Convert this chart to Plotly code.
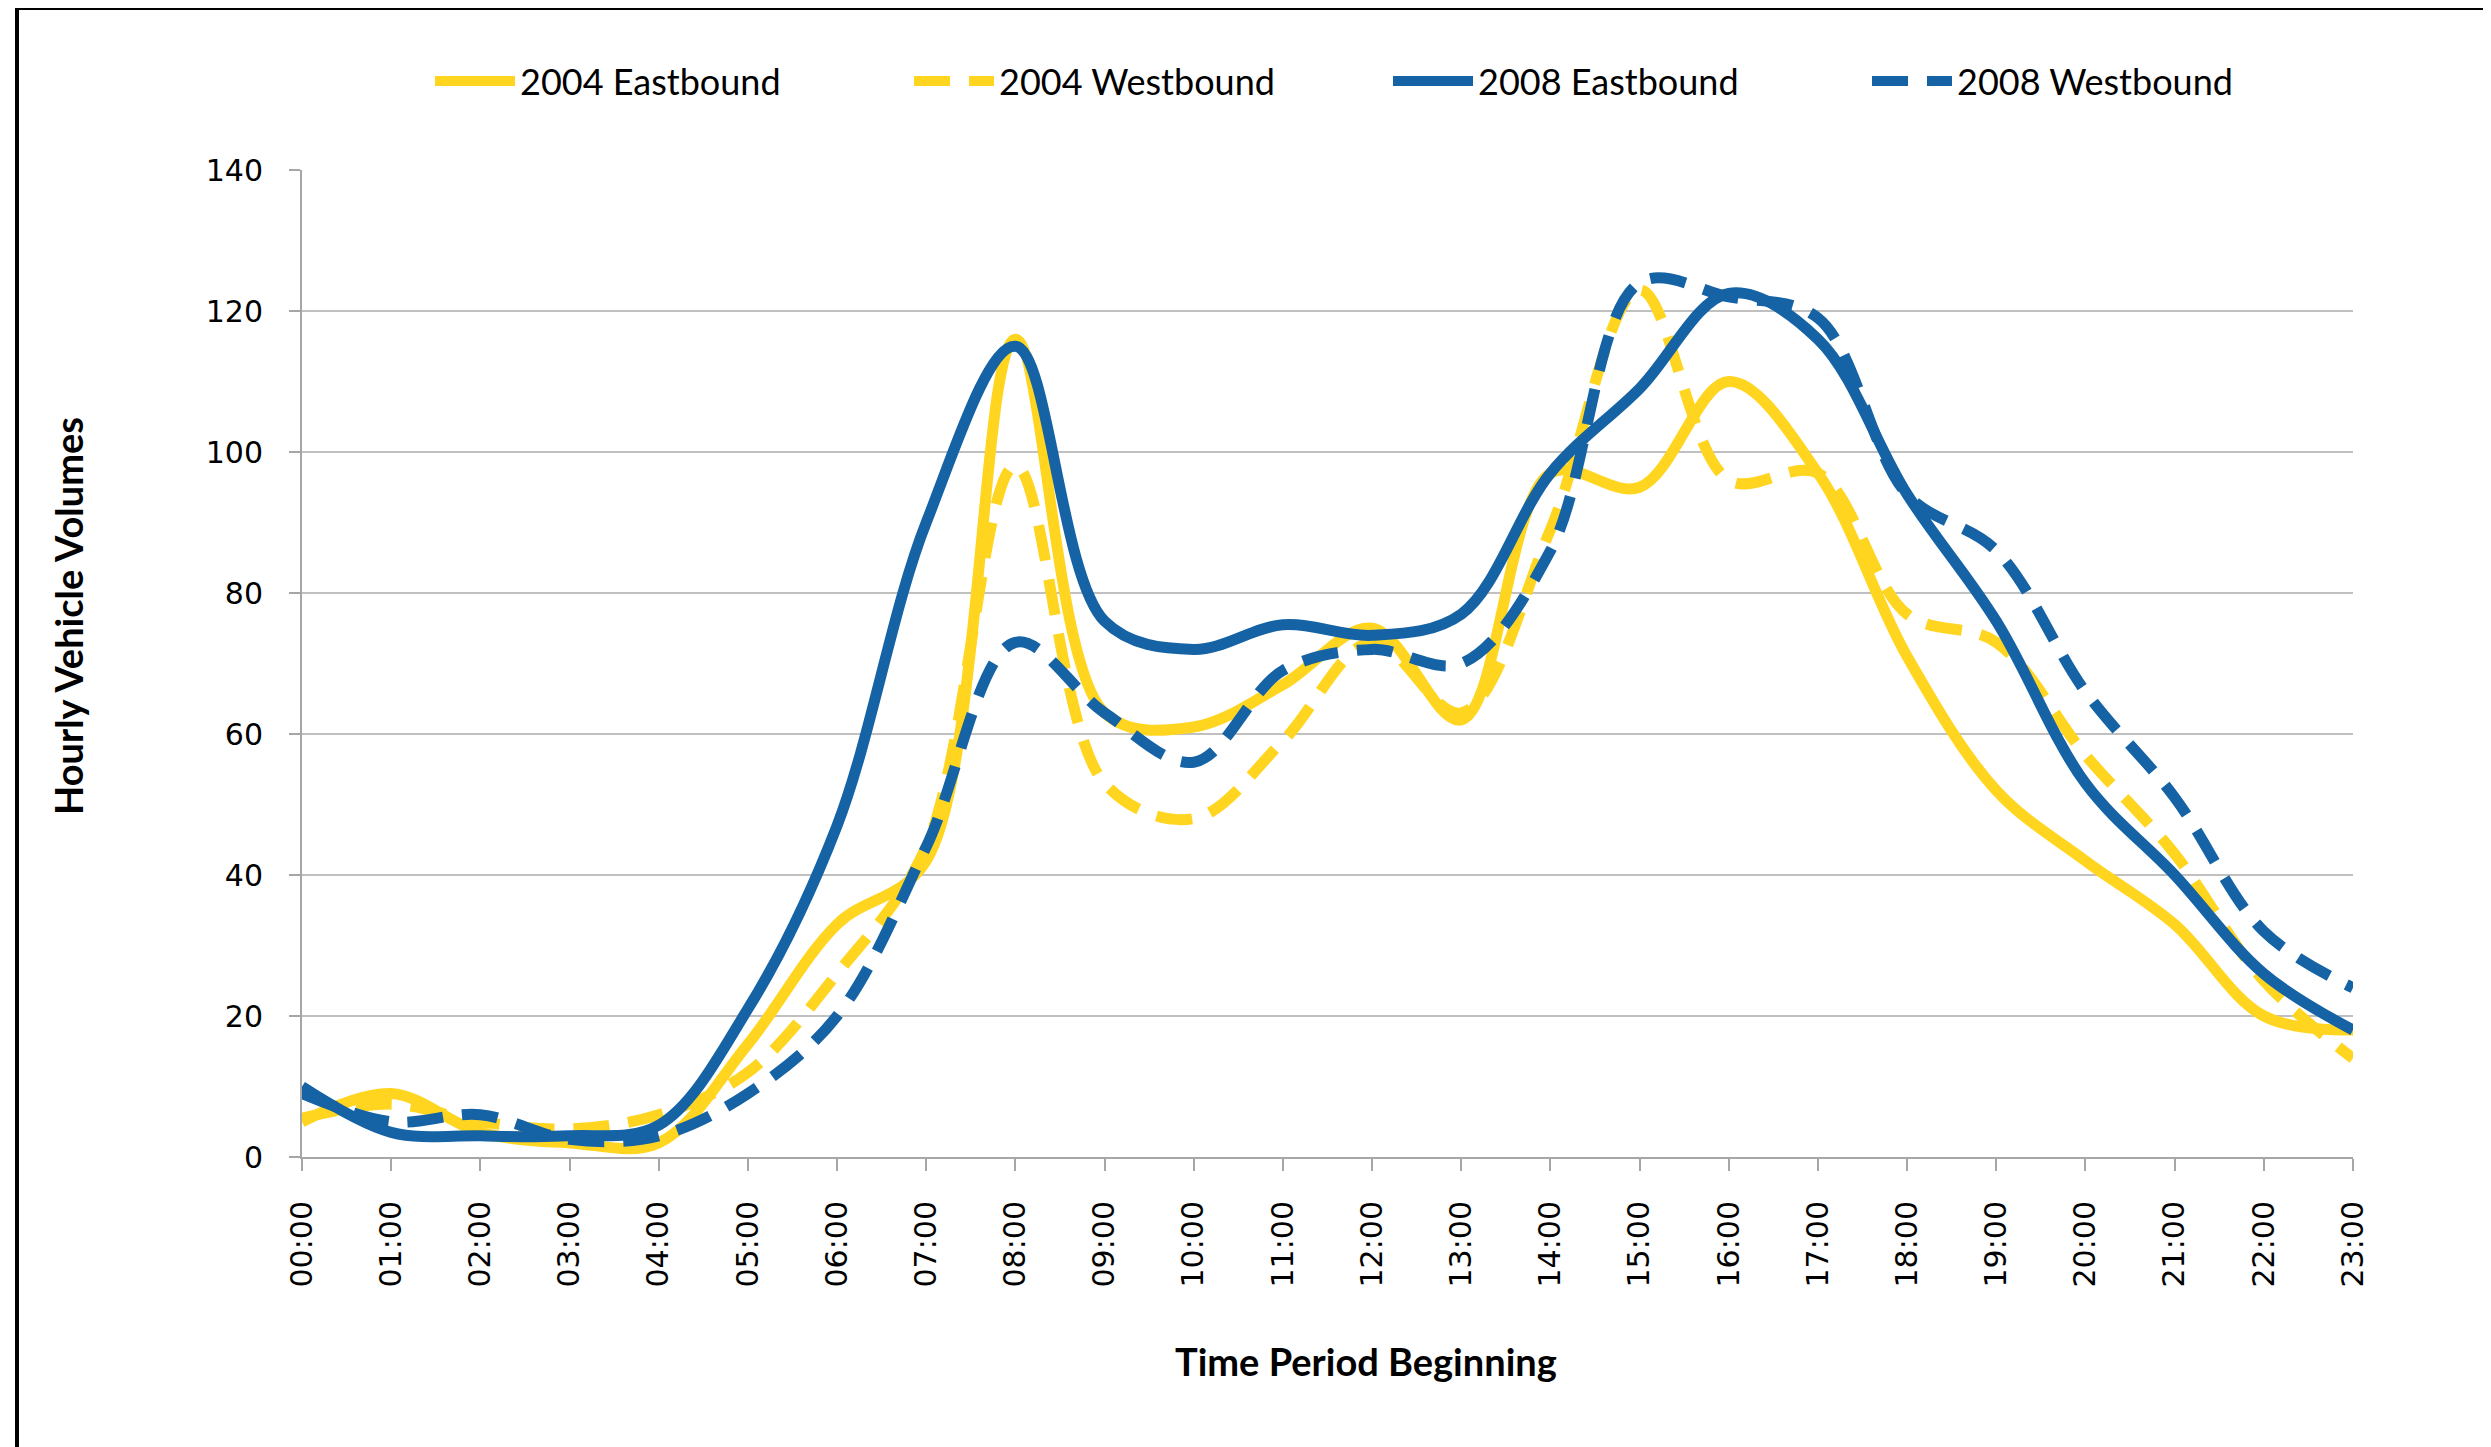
import plotly.graph_objects as go

hours = ["%02d:00" % h for h in range(24)]

eb_2004 = [5, 9, 3.5, 2, 2, 16, 33, 42, 116, 63, 61, 67, 75, 62, 97, 95, 110, 97, 71, 52, 42, 33, 20, 18]
wb_2004 = [5.5, 7.5, 5, 4, 6, 12, 26, 44, 98, 53, 48, 59, 73, 63, 89, 123, 96, 97, 77, 73, 57, 43, 25, 14]
eb_2008 = [10, 3.5, 3, 3, 4.5, 21, 47, 90, 115, 76, 72, 75.5, 74, 77, 97, 109, 122.5, 116, 94, 76, 53, 40, 26, 18]
wb_2008 = [9, 5, 6, 2.5, 3, 9, 20, 44, 73, 63, 56, 69, 72, 70, 86, 124, 122, 119, 94, 86, 66, 51, 32, 24]

y_ticks = [0, 20, 40, 60, 80, 100, 120, 140]

YELLOW = "#FFD520"
BLUE = "#1563A5"
DASH = "36px,19px"
LW = 11

series = [
    ("2004 Eastbound", eb_2004, YELLOW, "solid"),
    ("2004 Westbound", wb_2004, YELLOW, DASH),
    ("2008 Eastbound", eb_2008, BLUE, "solid"),
    ("2008 Westbound", wb_2008, BLUE, DASH),
]

fig = go.Figure()
for name, vals, col, dash in series:
    fig.add_trace(go.Scatter(
        x=hours, y=vals, name=name, mode="lines",
        line=dict(color=col, width=LW, dash=dash, shape="spline", smoothing=1.0),
    ))

# page body has an 8px default margin; work in window pixels and shift
OFF = 8
WIN_W, WIN_H = 2491, 1447
W, H = WIN_W - OFF, WIN_H - OFF
PX_L, PX_R, PX_T, PX_B = 302, 2353, 170, 1157   # plot area in window pixels
L, R = PX_L - OFF, W - (PX_R - OFF)
T, B = PX_T - OFF, H - (PX_B - OFF)
pw, ph = PX_R - PX_L, PX_B - PX_T

def px_x(x):
    return (x - PX_L) / pw

def px_y(y):
    return (PX_B - y) / ph

fig.update_layout(
    width=W, height=H,
    margin=dict(l=L, r=R, t=T, b=B, pad=0),
    paper_bgcolor="white", plot_bgcolor="white",
    font=dict(family="DejaVu Sans", size=30, color="black"),
    showlegend=True,
    legend=dict(
        orientation="h", x=px_x(430), xanchor="left", y=px_y(81), yanchor="middle",
        font=dict(family="Lato", size=36, color="black"),
        itemwidth=80, entrywidth=384, entrywidthmode="pixels",
        bgcolor="rgba(0,0,0,0)", tracegroupgap=0,
    ),
    xaxis=dict(
        type="category", range=[0, 23], tickangle=-90,
        showgrid=False, showline=True, linecolor="#A6A6A6", linewidth=2,
        ticks="outside", ticklen=12, tickcolor="#A6A6A6", tickwidth=2,
        tickfont=dict(family="DejaVu Sans", size=30, color="black"),
        ticklabelstandoff=18, zeroline=False,
    ),
    yaxis=dict(
        range=[0, 140], tickvals=y_ticks, showgrid=True, gridcolor="#C0C0C0", gridwidth=2,
        showline=True, linecolor="#A6A6A6", linewidth=2,
        ticks="outside", ticklen=11, tickcolor="#A6A6A6", tickwidth=2,
        tickfont=dict(family="DejaVu Sans", size=30, color="black"),
        ticklabelstandoff=20, zeroline=False,
    ),
    annotations=[
        dict(text="<b>Time Period Beginning</b>", xref="paper", yref="paper",
             x=px_x(1366), y=px_y(1361), xanchor="center", yanchor="middle", showarrow=False,
             font=dict(family="Lato", size=38, color="black")),
        dict(text="<b>Hourly Vehicle Volumes</b>", xref="paper", yref="paper",
             x=px_x(68), y=px_y(616), xanchor="center", yanchor="middle", showarrow=False,
             textangle=-90, font=dict(family="Lato", size=38, color="black")),
    ],
    shapes=[
        dict(type="line", xref="paper", yref="paper", x0=px_x(17), x1=px_x(2600), y0=px_y(8), y1=px_y(8),
             line=dict(color="black", width=4)),
        dict(type="line", xref="paper", yref="paper", x0=px_x(17), x1=px_x(17), y0=px_y(8), y1=px_y(1500),
             line=dict(color="black", width=4)),
    ],
)

fig.write_html("out.html")
